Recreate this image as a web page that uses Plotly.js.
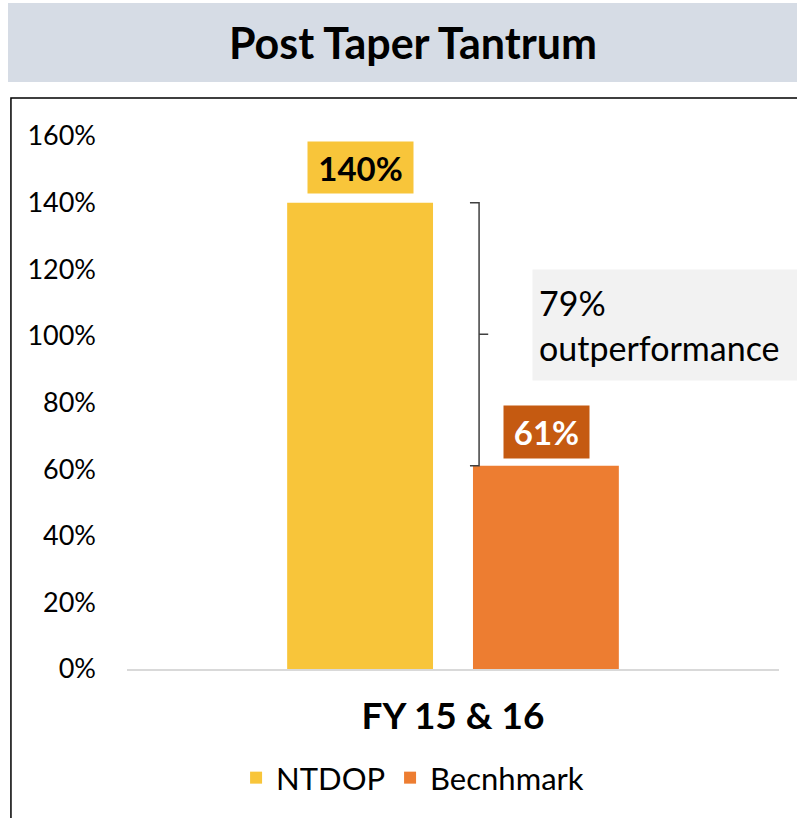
<!DOCTYPE html>
<html>
<head>
<meta charset="utf-8">
<script src="https://cdn.plot.ly/plotly-3.0.1.min.js"></script>
<style>
  body { margin: 0; background: #fff; }
  #chart { width: 797px; height: 818px; }
</style>
</head>
<body>
<div id="chart"></div>
<script>
var categories = ['FY 15 & 16'];
var seriesNames = ['NTDOP', 'Becnhmark'];
var ntdopValues = [140];
var benchValues = [61];
var barLabels = ['140%', '61%'];
var yTicks = [0, 20, 40, 60, 80, 100, 120, 140, 160];
var yTickText = ['0%', '20%', '40%', '60%', '80%', '100%', '120%', '140%', '160%'];
var gapLabel = '79%<br>outperformance';

var FONT = 'Lato, "Open Sans", sans-serif';

var trace1 = {
	x: categories,
	y: ntdopValues,
	name: seriesNames[0],
	type: 'bar',
	marker: {color: '#F8C53A'},
	hoverinfo: 'none'
};

var trace2 = {
	x: categories,
	y: benchValues,
	name: seriesNames[1],
	type: 'bar',
	marker: {color: '#ED7D31'},
	hoverinfo: 'none'
};

// bracket between the two bar tops (x in paper, y in data units)
var yTop = ntdopValues[0], yBot = benchValues[0], yMid = (yTop + yBot) / 2;
var bx = 0.540, bl = 0.526, br = 0.554;
var bracketPath = 'M ' + bl + ' ' + yTop + ' L ' + bx + ' ' + yTop +
	' L ' + bx + ' ' + yBot + ' L ' + bl + ' ' + yBot +
	' M ' + bx + ' ' + yMid + ' L ' + br + ' ' + yMid;

var layout = {
	width: 797,
	height: 818,
	margin: {l: 127, r: 18, t: 136, b: 149},
	paper_bgcolor: '#ffffff',
	plot_bgcolor: '#ffffff',
	font: {family: FONT, color: '#000'},
	barmode: 'group',
	bargap: 0.43,
	bargroupgap: 0.215,
	showlegend: true,
	legend: {
		orientation: 'h',
		x: 0.438, xanchor: 'center',
		y: -0.2045, yanchor: 'middle',
		font: {size: 31, family: FONT},
		itemwidth: 30
	},
	xaxis: {
		showgrid: false,
		showline: true,
		linecolor: '#D9D9D9',
		linewidth: 2,
		ticks: '',
		ticklabelstandoff: 14,
		tickfont: {size: 37, family: FONT, weight: 'bold'}
	},
	yaxis: {
		range: [0, 160],
		tickvals: yTicks,
		ticktext: yTickText,
		showgrid: false,
		zeroline: false,
		showline: false,
		ticks: '',
		ticklabelstandoff: 30,
		tickfont: {size: 27, family: FONT}
	},
	shapes: [
		{ // title band
			type: 'rect', xref: 'paper', yref: 'paper',
			x0: -0.1825, x1: 1.03, y0: 1.1013, y1: 1.2495,
			fillcolor: '#D6DCE5', line: {width: 0}, layer: 'below'
		},
		{ // outer frame
			type: 'rect', xref: 'paper', yref: 'paper',
			x0: -0.178, x1: 1.06, y0: -0.32, y1: 1.0713,
			fillcolor: 'rgba(0,0,0,0)', line: {color: '#000', width: 1.5}, layer: 'below'
		},
		{ // bracket
			type: 'path', xref: 'paper', yref: 'y',
			path: bracketPath,
			line: {color: '#404040', width: 1.5}
		}
	],
	annotations: [
		{
			text: '<b>Post Taper Tantrum</b>',
			xref: 'paper', yref: 'paper',
			x: 0.439, y: 1.1754, xanchor: 'center', yanchor: 'middle',
			showarrow: false,
			font: {size: 43, family: FONT, color: '#000'}
		},
		{
			text: '<b>' + barLabels[0] + '</b>',
			x: categories[0], y: ntdopValues[0],
			xshift: -93, yshift: 9, yanchor: 'bottom',
			showarrow: false,
			bgcolor: '#F8C53A',
			width: 91, height: 37, borderpad: 7,
			font: {size: 33, family: FONT, color: '#000'}
		},
		{
			text: '<b>' + barLabels[1] + '</b>',
			x: categories[0], y: benchValues[0],
			xshift: 93, yshift: 7, yanchor: 'bottom',
			showarrow: false,
			bgcolor: '#C55A11',
			width: 71, height: 38, borderpad: 7,
			font: {size: 33, family: FONT, color: '#fff'}
		},
		{
			text: gapLabel,
			xref: 'paper', yref: 'paper',
			x: 0.621, y: 0.645, xanchor: 'left', yanchor: 'middle',
			align: 'left',
			showarrow: false,
			bgcolor: '#F2F2F2',
			width: 265, height: 98, borderpad: 6,
			font: {size: 34, family: FONT, color: '#000'}
		}
	]
};

Plotly.newPlot(document.getElementById('chart'), [trace1, trace2], layout, {displayModeBar: false, staticPlot: true});
</script>
</body>
</html>
